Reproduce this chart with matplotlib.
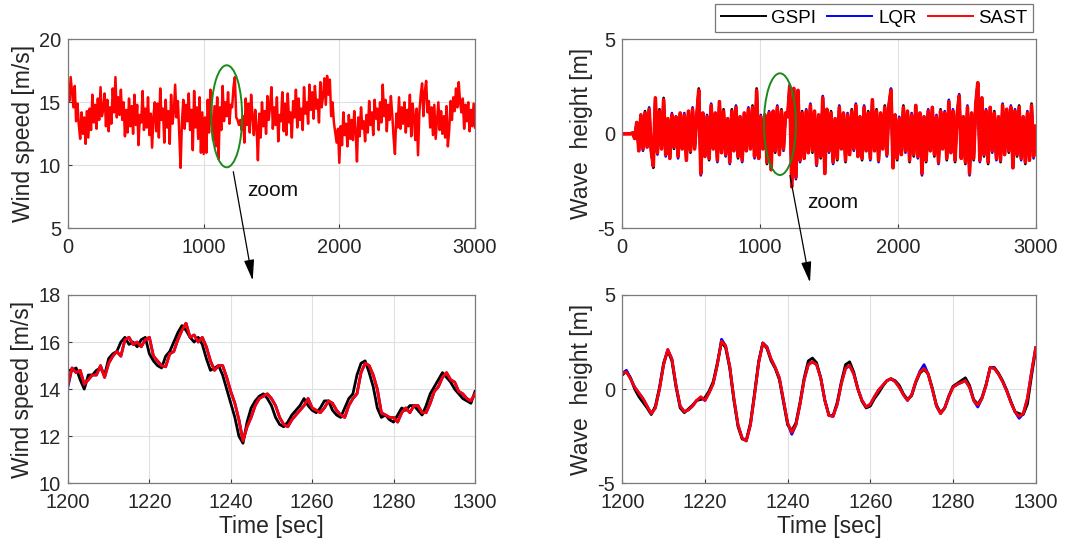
import numpy as np
import matplotlib
matplotlib.use("Agg")
import matplotlib.pyplot as plt
from matplotlib.patches import Ellipse, FancyArrowPatch

plt.rcParams['font.family'] = ['Liberation Sans', 'DejaVu Sans']
plt.rcParams['axes.unicode_minus'] = False

# ---------------- data ----------------
series_names = ["GSPI", "LQR", "SAST"]
series_colors = ["#000000", "#0000ff", "#ff0000"]

# full-length wind speed (SAST), sampled every 10 s from 0 to 3000 s
wind_full_t0, wind_full_dt = 0, 10
wind_full_sast = [
    16.2, 15.1, 17.0, 15.8, 14.6, 16.3, 13.5, 14.9, 13.2, 12.1,
    14.2, 12.5, 13.8, 11.7, 14.3, 12.2, 14.5, 12.8, 15.6, 13.4,
    14.8, 12.9, 15.3, 13.6, 16.2, 13.9, 14.4, 15.7, 13.1, 15.2,
    12.7, 14.6, 13.3, 16.1, 14.2, 17.0, 13.8, 15.4, 14.0, 16.0,
    13.6, 15.0, 12.3, 14.4, 12.6, 15.3, 13.1, 14.7, 12.5, 15.6,
    13.2, 14.8, 11.6, 14.0, 13.4, 15.9, 12.8, 14.5, 13.0, 15.4,
    12.4, 14.1, 11.4, 13.9, 15.0, 12.7, 14.9, 12.2, 16.1, 13.6,
    14.5, 11.8, 15.2, 13.0, 14.3, 11.7, 15.6, 13.3, 14.2, 16.4,
    13.8, 15.1, 12.6, 9.8, 13.4, 15.2, 12.9, 14.8, 13.5, 15.7,
    12.8, 14.4, 11.2, 15.9, 13.0, 14.6, 12.1, 15.4, 11.0, 14.2,
    10.9, 13.8, 11.0, 15.2, 12.6, 16.0, 13.4, 12.0, 14.7, 11.5,
    15.4, 10.5, 14.6, 12.8, 16.3, 13.5, 15.0, 13.9, 15.8, 13.3,
    14.8, 14.6, 16.2, 17.0, 13.8, 13.6, 13.2, 13.6, 12.8, 13.9,
    11.8, 15.3, 13.2, 14.9, 12.6, 15.6, 13.9, 12.4, 14.4, 13.0,
    10.4, 14.1, 12.2, 15.0, 13.1, 14.3, 12.5, 15.5, 13.6, 14.8,
    16.2, 12.9, 14.6, 13.2, 15.4, 11.9, 14.0, 13.5, 15.8, 12.7,
    14.9, 12.4, 15.7, 13.4, 14.2, 12.2, 15.1, 13.8, 16.0, 13.0,
    15.3, 13.6, 14.5, 12.8, 16.2, 14.1, 15.0, 13.3, 16.4, 14.4,
    15.8, 13.7, 16.3, 14.5, 15.2, 13.4, 16.6, 14.6, 15.5, 16.9,
    14.8, 17.1, 15.6, 16.8, 13.9, 15.0, 13.4, 12.6, 11.8, 12.9,
    10.2, 13.1, 11.6, 14.2, 12.4, 13.3, 11.5, 14.0, 12.1, 13.6,
    12.0, 14.3, 12.7, 10.3, 13.8, 12.3, 14.6, 12.9, 13.5, 11.9,
    14.0, 12.6, 15.1, 13.2, 14.2, 12.4, 15.2, 13.7, 14.5, 12.8,
    15.0, 13.4, 16.4, 13.9, 15.2, 12.7, 14.8, 13.6, 15.5, 14.0,
    12.2, 10.9, 14.1, 13.0, 15.4, 12.9, 14.6, 13.3, 15.0, 12.6,
    14.4, 13.1, 15.6, 12.3, 14.9, 13.8, 12.0, 14.5, 10.8, 14.2,
    15.6, 16.5, 13.9, 15.8, 16.7, 14.2, 15.1, 13.0, 14.6, 12.4,
    14.8, 12.1, 13.6, 15.0, 12.8, 14.3, 12.5, 13.9, 12.2, 14.7,
    11.5, 12.8, 15.1, 13.6, 15.4, 14.3, 16.1, 14.6, 16.6, 15.0,
    14.2, 15.3, 12.9, 14.8, 13.5, 15.0, 12.7, 14.4, 13.1, 14.9,
    13.0,
]

# full-length wave height, sampled every 15 s from 0 to 3000 s
wave_full_t0, wave_full_dt = 0, 15
wave_full_gspi = [
    0, 0, 0, 0, 0, 0.05, -0.25, 0.6, -0.9, 1.0,
    -0.8, 1.2, -0.7, 1.3, -0.9, -1.8, 1.9, -1.0, 1.3, -0.8,
    1.9, -1.1, 0.8, -1.3, 1.0, -0.8, 0.9, -1.2, 1.1, -0.8,
    1.0, -1.4, 1.2, -1.0, 1.3, -0.8, 0.9, 2.4, -2.1, 1.1,
    -1.2, 0.9, -1.4, 1.5, -0.8, 1.1, -1.4, 1.7, -1.0, 1.3,
    -1.1, 0.8, -1.5, 1.3, -0.9, 1.4, -1.3, 0.9, -1.4, 1.1,
    -0.9, 1.3, -0.8, 1.5, -1.2, 2.4, -1.3, 0.9, -0.8, 1.0,
    -1.6, 1.1, -1.9, 1.2, -1.0, 1.4, -1.1, 1.3, -0.8, 1.1,
    0.9, 2.5, -2.8, 2.4, -2.3, 2.3, -1.4, 1.2, -1.3, 1.2,
    -1.0, 1.5, -1.0, 1.2, -1.6, 1.0, -1.3, 1.9, -2.1, 1.3,
    -0.9, 1.2, -1.5, 0.8, -1.4, 1.4, -0.8, 1.1, -1.5, 1.0,
    -1.1, 1.3, -0.8, 1.5, -1.2, 0.9, -1.4, 1.4, -0.9, 1.2,
    -1.3, 1.8, -0.9, 1.3, -1.4, 1.1, -0.8, 1.5, -1.1, 1.5,
    2.3, -1.8, 1.0, -1.4, 0.8, -1.1, 1.5, -0.9, 1.2, -1.5,
    1.0, -1.2, 1.5, -1.2, 1.1, -2.1, 0.9, -1.5, 1.2, -0.9,
    1.4, -1.2, 0.9, -1.5, 1.3, -0.8, 1.1, -1.4, 1.7, -1.0,
    1.2, -1.5, 1.0, 2.0, -1.3, 0.9, -1.6, 1.4, -2.1, 1.1,
    -1.4, 1.5, 2.7, -1.4, 1.9, -1.2, 1.2, -1.6, 1.4, -0.9,
    1.2, -1.3, 0.9, -1.5, 1.5, -1.1, 1.3, -1.0, 1.4, -1.8,
    1.2, -1.2, 1.5, -1.3, 0.9, -1.6, 1.1, -1.4, 1.6, -1.2, 0.4,
]
wave_full_lqr = [
    0, 0, 0, 0, 0, 0.05, -0.25, 0.6, -0.9, 1.0,
    -0.9, 1.1, -0.7, 1.4, -0.9, -1.7, 1.9, -1.1, 1.2, -0.8,
    1.8, -1.2, 0.8, -1.3, 1.1, -0.7, 0.9, -1.3, 1.1, -0.8,
    1.1, -1.4, 1.2, -0.9, 1.4, -0.8, 0.9, 2.3, -2.2, 1.1,
    -1.2, 1.0, -1.3, 1.6, -0.8, 1.1, -1.5, 1.7, -1.0, 1.2,
    -1.2, 0.8, -1.6, 1.2, -0.9, 1.5, -1.2, 0.9, -1.5, 1.1,
    -0.9, 1.4, -0.8, 1.4, -1.3, 2.3, -1.3, 1.0, -0.8, 1.0,
    -1.5, 1.2, -1.9, 1.2, -0.9, 1.5, -1.1, 1.2, -0.9, 1.1,
    0.9, 2.6, -2.8, 2.4, -2.4, 2.3, -1.5, 1.1, -1.3, 1.3,
    -1.0, 1.6, -0.9, 1.2, -1.7, 1.0, -1.2, 2.0, -2.1, 1.3,
    -1.0, 1.1, -1.6, 0.8, -1.3, 1.5, -0.8, 1.1, -1.4, 1.1,
    -1.1, 1.2, -0.9, 1.6, -1.2, 0.9, -1.3, 1.5, -0.9, 1.1,
    -1.4, 1.8, -0.9, 1.2, -1.5, 1.1, -0.8, 1.4, -1.2, 1.5,
    2.4, -1.8, 1.0, -1.3, 0.9, -1.1, 1.4, -1.0, 1.2, -1.4,
    1.1, -1.1, 1.5, -1.3, 1.1, -2.2, 0.9, -1.4, 1.3, -0.9,
    1.4, -1.1, 1.0, -1.6, 1.2, -0.8, 1.2, -1.3, 1.8, -1.0,
    1.3, -1.4, 1.0, 2.1, -1.3, 0.9, -1.5, 1.5, -2.2, 1.1,
    -1.3, 1.6, 2.7, -1.5, 1.9, -1.1, 1.3, -1.5, 1.4, -1.0,
    1.1, -1.4, 0.9, -1.4, 1.6, -1.1, 1.3, -0.9, 1.5, -1.8,
    1.3, -1.1, 1.4, -1.4, 0.9, -1.5, 1.2, -1.4, 1.5, -1.3, 0.4,
]
wave_full_sast = [
    0, 0, 0, 0, 0, 0.05, -0.25, 0.6, -0.9, 1.0,
    -0.8, 1.1, -0.7, 1.3, -0.9, -1.7, 1.9, -1.0, 1.2, -0.8,
    1.8, -1.1, 0.8, -1.3, 1.0, -0.7, 0.9, -1.2, 1.1, -0.8,
    1.0, -1.4, 1.2, -0.9, 1.3, -0.8, 0.9, 2.3, -2.1, 1.1,
    -1.2, 0.9, -1.3, 1.5, -0.8, 1.1, -1.4, 1.7, -1.0, 1.2,
    -1.1, 0.8, -1.5, 1.2, -0.9, 1.4, -1.2, 0.9, -1.4, 1.1,
    -0.9, 1.3, -0.8, 1.4, -1.2, 2.3, -1.3, 0.9, -0.8, 1.0,
    -1.5, 1.1, -1.9, 1.2, -0.9, 1.4, -1.1, 1.2, -0.8, 1.1,
    0.9, 2.5, -2.8, 2.4, -2.3, 2.3, -1.4, 1.1, -1.3, 1.2,
    -1.0, 1.5, -0.9, 1.2, -1.6, 1.0, -1.2, 1.9, -2.1, 1.3,
    -0.9, 1.1, -1.5, 0.8, -1.3, 1.4, -0.8, 1.1, -1.4, 1.0,
    -1.1, 1.2, -0.8, 1.5, -1.2, 0.9, -1.3, 1.4, -0.9, 1.1,
    -1.3, 1.8, -0.9, 1.2, -1.4, 1.1, -0.8, 1.4, -1.1, 1.5,
    2.3, -1.8, 1.0, -1.3, 0.8, -1.1, 1.4, -0.9, 1.2, -1.4,
    1.0, -1.1, 1.5, -1.2, 1.1, -2.1, 0.9, -1.4, 1.2, -0.9,
    1.4, -1.1, 0.9, -1.5, 1.2, -0.8, 1.1, -1.3, 1.7, -1.0,
    1.2, -1.4, 1.0, 2.0, -1.3, 0.9, -1.5, 1.4, -2.1, 1.1,
    -1.3, 1.5, 2.7, -1.4, 1.9, -1.1, 1.2, -1.5, 1.4, -0.9,
    1.1, -1.3, 0.9, -1.4, 1.5, -1.1, 1.3, -0.9, 1.4, -1.8,
    1.2, -1.1, 1.4, -1.3, 0.9, -1.5, 1.1, -1.4, 1.5, -1.2, 0.4,
]

# zoomed window 1200-1300 s, 1 s samples
zoom_t0, zoom_dt = 1200, 1
wind_zoom_gspi = [
    14.8, 14.8, 14.9, 14.4, 14.0, 14.6, 14.6, 14.8, 14.9, 14.6,
    15.3, 15.5, 15.6, 16.0, 16.2, 15.9, 16.0, 15.8, 16.1, 16.2,
    15.5, 15.2, 15.0, 14.9, 15.4, 15.6, 16.0, 16.4, 16.7, 16.5,
    16.2, 16.0, 16.2, 15.9, 15.3, 14.8, 14.9, 15.0, 14.6, 14.0,
    13.4, 12.8, 12.0, 11.7, 12.6, 13.2, 13.5, 13.7, 13.8, 13.6,
    13.3, 12.8, 12.5, 12.4, 12.6, 12.9, 13.1, 13.3, 13.6, 13.3,
    13.1, 13.0, 13.2, 13.5, 13.5, 13.1, 12.9, 12.8, 13.2, 13.6,
    13.8, 14.6, 15.1, 15.2, 14.7, 14.1, 13.2, 12.8, 12.9, 12.7,
    12.6, 12.9, 13.2, 13.1, 13.3, 13.3, 13.1, 12.9, 13.3, 13.8,
    14.1, 14.4, 14.7, 14.5, 14.3, 14.0, 13.8, 13.6, 13.5, 13.4, 13.9,
]
wind_zoom_lqr = [
    14.1, 14.9, 14.7, 14.8, 14.2, 14.4, 14.6, 14.6, 15.0, 14.5,
    15.1, 15.4, 15.6, 15.4, 16.1, 16.2, 15.9, 16.0, 15.8, 16.1,
    16.2, 15.4, 15.2, 15.0, 14.95, 15.5, 15.6, 16.1, 16.5, 16.8,
    16.2, 16.3, 16.0, 16.2, 15.8, 15.2, 14.8, 15.0, 15.0, 14.5,
    13.9, 13.4, 12.7, 11.8, 12.4, 12.8, 13.3, 13.6, 13.7, 13.8,
    13.6, 13.3, 12.8, 12.5, 12.4, 12.7, 12.9, 13.1, 13.3, 13.6,
    13.2, 13.1, 13.0, 13.2, 13.5, 13.4, 13.1, 12.9, 12.8, 13.3,
    13.6, 13.8, 14.7, 15.1, 15.0, 14.6, 14.0, 13.0, 12.9, 12.8,
    12.8, 12.6, 13.0, 13.2, 13.0, 13.3, 13.3, 13.0, 13.0, 13.4,
    13.9, 14.1, 14.5, 14.7, 14.4, 14.3, 13.9, 13.8, 13.6, 13.5, 13.8,
]
wind_zoom_sast = [
    14.2, 14.9, 14.7, 14.8, 14.2, 14.4, 14.6, 14.6, 15.0, 14.5,
    15.1, 15.4, 15.6, 15.4, 16.1, 16.2, 15.9, 16.0, 15.8, 16.1,
    16.2, 15.4, 15.2, 15.0, 14.95, 15.5, 15.6, 16.1, 16.5, 16.8,
    16.2, 16.3, 16.0, 16.2, 15.8, 15.2, 14.8, 15.0, 15.0, 14.5,
    13.9, 13.4, 12.7, 11.8, 12.4, 12.8, 13.3, 13.6, 13.7, 13.8,
    13.6, 13.3, 12.8, 12.5, 12.4, 12.7, 12.9, 13.1, 13.3, 13.6,
    13.2, 13.1, 13.0, 13.2, 13.5, 13.4, 13.1, 12.9, 12.8, 13.3,
    13.6, 13.8, 14.7, 15.1, 15.0, 14.6, 14.0, 13.0, 12.9, 12.8,
    12.8, 12.6, 13.0, 13.2, 13.0, 13.3, 13.3, 13.0, 13.0, 13.4,
    13.9, 14.1, 14.5, 14.7, 14.4, 14.3, 13.9, 13.8, 13.6, 13.5, 13.8,
]

wave_zoom_gspi = [
    0.75, 0.95, 0.60, 0.00, -0.40, -0.70, -1.00, -1.35, -0.90, 0.10,
    1.40, 2.05, 1.50, 0.10, -1.00, -1.25, -1.05, -0.85, -0.60, -0.55,
    -0.45, -0.10, 0.40, 1.40, 2.50, 2.20, 1.10, -0.60, -2.00, -2.65,
    -2.70, -1.80, -0.20, 1.50, 2.45, 2.15, 1.50, 1.10, 0.50, -0.70,
    -1.90, -2.20, -1.80, -0.70, 0.60, 1.50, 1.65, 1.40, 0.60, -0.60,
    -1.40, -1.40, -0.70, 0.40, 1.30, 1.45, 0.90, 0.00, -0.65, -1.00,
    -0.90, -0.50, -0.20, 0.15, 0.45, 0.55, 0.45, 0.20, -0.25, -0.55,
    -0.35, 0.35, 0.85, 1.05, 0.80, 0.05, -0.85, -1.25, -1.00, -0.35,
    0.15, 0.30, 0.45, 0.60, 0.20, -0.55, -0.80, -0.45, 0.25, 1.15,
    1.15, 0.85, 0.45, -0.05, -0.65, -1.20, -1.30, -1.35, -0.80, 0.70, 2.10,
]
wave_zoom_lqr = [
    0.84, 1.00, 0.55, 0.10, -0.20, -0.50, -0.90, -1.30, -1.00, 0.00,
    1.30, 2.10, 1.60, 0.20, -0.90, -1.20, -1.10, -0.90, -0.60, -0.45,
    -0.60, -0.20, 0.30, 1.30, 2.65, 2.30, 1.20, -0.50, -1.90, -2.60,
    -2.75, -1.90, -0.30, 1.40, 2.45, 2.25, 1.60, 1.15, 0.60, -0.60,
    -1.80, -2.40, -1.90, -0.80, 0.50, 1.30, 1.45, 1.30, 0.60, -0.60,
    -1.40, -1.45, -0.80, 0.30, 1.10, 1.25, 0.80, 0.00, -0.60, -0.95,
    -0.80, -0.40, -0.05, 0.20, 0.45, 0.55, 0.40, 0.10, -0.30, -0.60,
    -0.30, 0.40, 0.95, 1.30, 0.80, 0.00, -0.90, -1.30, -1.00, -0.40,
    0.10, 0.25, 0.35, 0.45, 0.10, -0.60, -0.95, -0.50, 0.20, 1.15,
    1.10, 0.80, 0.40, -0.10, -0.70, -1.20, -1.55, -1.30, -0.50, 0.90, 2.20,
]
wave_zoom_sast = [
    0.84, 0.90, 0.55, 0.10, -0.20, -0.50, -0.90, -1.30, -1.00, 0.00,
    1.30, 2.10, 1.60, 0.20, -0.90, -1.20, -1.10, -0.90, -0.60, -0.40,
    -0.60, -0.20, 0.30, 1.30, 2.55, 2.30, 1.20, -0.50, -1.90, -2.60,
    -2.75, -1.90, -0.30, 1.40, 2.45, 2.20, 1.60, 1.15, 0.60, -0.60,
    -1.80, -2.30, -1.90, -0.80, 0.50, 1.30, 1.45, 1.30, 0.60, -0.60,
    -1.40, -1.45, -0.80, 0.30, 1.10, 1.25, 0.80, 0.00, -0.60, -0.95,
    -0.80, -0.40, -0.05, 0.20, 0.45, 0.55, 0.40, 0.10, -0.30, -0.60,
    -0.30, 0.40, 0.90, 1.10, 0.80, 0.00, -0.90, -1.30, -1.00, -0.40,
    0.10, 0.25, 0.35, 0.45, 0.10, -0.60, -0.85, -0.50, 0.20, 1.15,
    1.10, 0.80, 0.40, -0.10, -0.70, -1.20, -1.45, -1.30, -0.50, 0.90, 2.20,
]

wind_full_yticks = [5, 10, 15, 20]
wave_yticks = [-5, 0, 5]
wind_zoom_yticks = [10, 12, 14, 16, 18]
full_xticks = [0, 1000, 2000, 3000]
zoom_xticks = [1200, 1220, 1240, 1260, 1280, 1300]

# ---------------- figure ----------------
fig = plt.figure(figsize=(10.72, 5.52), dpi=100)
ax_tl = fig.add_axes([0.0634, 0.5864, 0.3797, 0.3424])
ax_tr = fig.add_axes([0.5805, 0.5864, 0.3856, 0.3424])
ax_bl = fig.add_axes([0.0634, 0.1245, 0.3797, 0.3411])
ax_br = fig.add_axes([0.5805, 0.1245, 0.3856, 0.3411])

edge = '#3a3a3a'
TICK_FS = 14.4
LABEL_FS = 16.5


def style(ax, xlim, ylim, xticks, yticks):
    ax.set_xlim(*xlim)
    ax.set_ylim(*ylim)
    ax.set_xticks(xticks)
    ax.set_yticks(yticks)
    ax.grid(True, color='#e0e0e0', lw=0.8)
    ax.set_axisbelow(True)
    for s in ax.spines.values():
        s.set_color('#7a7a7a')
        s.set_linewidth(0.9)
    ax.tick_params(direction='in', length=3, width=0.8, colors=edge,
                   labelsize=TICK_FS, labelcolor='#262626')
    ax.tick_params(axis='x', pad=7)
    ax.tick_params(axis='y', pad=5)


# top-left: full wind
t_wf = wind_full_t0 + wind_full_dt * np.arange(len(wind_full_sast))
ax_tl.plot(t_wf, wind_full_sast, color=series_colors[2], lw=1.8)
style(ax_tl, (0, 3000), (5, 20), full_xticks, wind_full_yticks)
ax_tl.set_ylabel("Wind speed [m/s]", fontsize=LABEL_FS, color='#262626', labelpad=3)

# top-right: full wave
t_vf = wave_full_t0 + wave_full_dt * np.arange(len(wave_full_sast))
handles = []
for data, name, col, lw in zip([wave_full_gspi, wave_full_lqr, wave_full_sast], series_names,
                               series_colors, [1.9, 1.9, 2.6]):
    h, = ax_tr.plot(t_vf, data, color=col, lw=lw, label=name)
    handles.append(h)
style(ax_tr, (0, 3000), (-5, 5), full_xticks, wave_yticks)
ax_tr.set_ylabel("Wave  height [m]", fontsize=LABEL_FS, color='#262626', labelpad=3)

# bottom-left: zoomed wind
t_z = zoom_t0 + zoom_dt * np.arange(len(wind_zoom_sast))
for data, col in zip([wind_zoom_gspi, wind_zoom_lqr, wind_zoom_sast], series_colors):
    ax_bl.plot(t_z, data, color=col, lw=2.0)
style(ax_bl, (1200, 1300), (10, 18), zoom_xticks, wind_zoom_yticks)
ax_bl.set_ylabel("Wind speed [m/s]", fontsize=LABEL_FS, color='#262626', labelpad=3)
ax_bl.set_xlabel("Time [sec]", fontsize=LABEL_FS, color='#262626', labelpad=2)

# bottom-right: zoomed wave
for data, col in zip([wave_zoom_gspi, wave_zoom_lqr, wave_zoom_sast], series_colors):
    ax_br.plot(t_z, data, color=col, lw=2.0, solid_joinstyle='round')
style(ax_br, (1200, 1300), (-5, 5), zoom_xticks, wave_yticks)
ax_br.set_ylabel("Wave  height [m]", fontsize=LABEL_FS, color='#262626', labelpad=3)
ax_br.set_xlabel("Time [sec]", fontsize=LABEL_FS, color='#262626', labelpad=2)

# zoom ellipses
ax_tl.add_patch(Ellipse((1170, 13.89), 227, 8.1, fill=False, edgecolor='#1b8a1b', lw=1.4, zorder=5))
ax_tr.add_patch(Ellipse((1144, 0.51), 232, 5.38, fill=False, edgecolor='#1b8a1b', lw=1.4, zorder=5))

# arrows and "zoom" labels (figure pixel coordinates, origin bottom-left)
H = 552
arrow_kw = dict(arrowstyle='-|>,head_length=0.9,head_width=0.22', color='black', lw=0.9,
                shrinkA=0, shrinkB=0)
fig.add_artist(FancyArrowPatch((233.3, H - 171.7), (252.7, H - 280.5),
                               transform=None, mutation_scale=14, **arrow_kw))
fig.add_artist(FancyArrowPatch((790, H - 175.5), (810, H - 282.5),
                               transform=None, mutation_scale=14, **arrow_kw))
fig.text(247 / 1072, 1 - 190.7 / H, "zoom", fontsize=15, va='center', ha='left', color='#111111')
fig.text(807 / 1072, 1 - 202.7 / H, "zoom", fontsize=15, va='center', ha='left', color='#111111')

# legend
leg = fig.legend(handles=handles, labels=series_names, loc='upper right',
                 bbox_to_anchor=(1033 / 1072, 1 - 4 / H), ncol=3, fontsize=13.5,
                 frameon=True, fancybox=False, handlelength=2.4, handletextpad=0.3,
                 columnspacing=0.6, borderpad=0.3, borderaxespad=0)
leg.get_frame().set_edgecolor('#555555')
leg.get_frame().set_linewidth(0.9)
for lh in leg.get_lines():
    lh.set_linewidth(1.4)

fig.savefig("out.png", dpi=100)
